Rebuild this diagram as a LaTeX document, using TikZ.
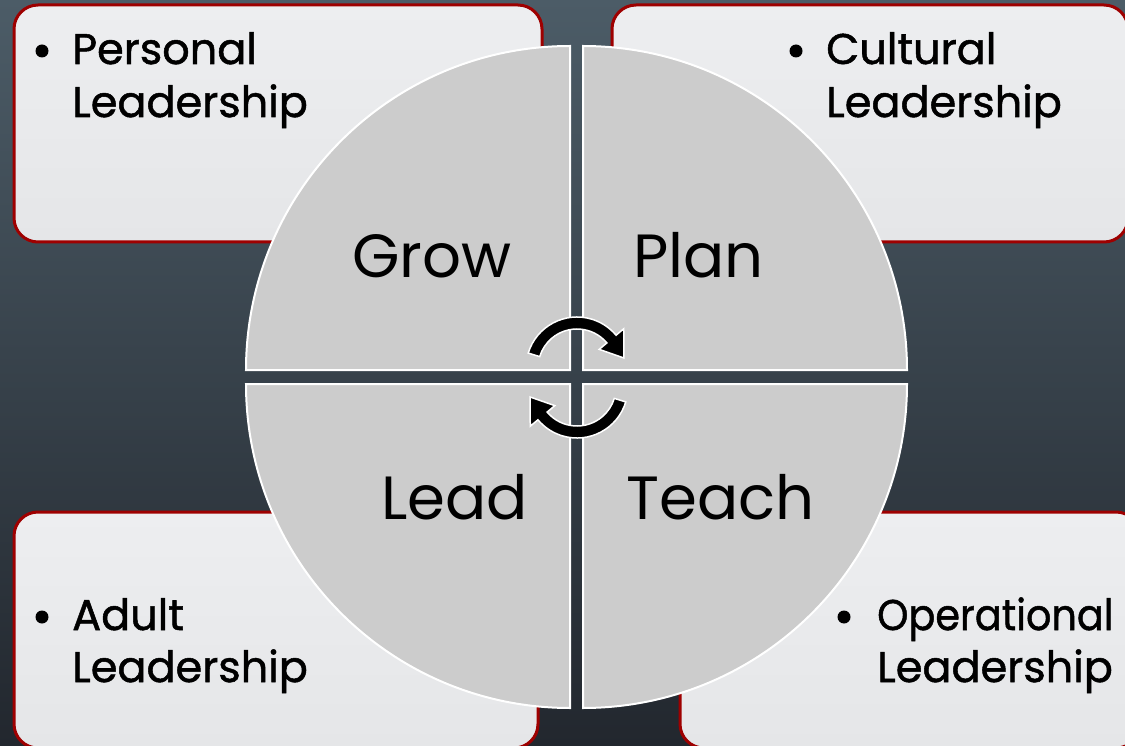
\documentclass[tikz,border=0pt]{standalone}
\usepackage{fontspec}
\setmainfont{Poppins}
\newfontfamily\boxfont[FakeBold=1.2]{Poppins}
\usetikzlibrary{calc}
\definecolor{bgtop}{RGB}{76,92,103}
\definecolor{bgbot}{RGB}{34,39,46}
\definecolor{boxfill}{RGB}{237,238,240}
\definecolor{boxfill2}{RGB}{229,230,232}
\definecolor{boxred}{RGB}{158,0,0}
\definecolor{quad}{RGB}{204,204,204}
\begin{document}
\begin{tikzpicture}[x=1pt,y=1pt,
  panel/.style={draw=boxred, line width=3pt, rounded corners=24pt, top color=boxfill, bottom color=boxfill2},
  quadrant/.style={fill=quad, draw=white, line width=2pt},
  boxtext/.style={anchor=base west, inner sep=0pt, font=\boxfont\fontsize{43}{50}\selectfont},
  bullet/.style={circle, fill=black, inner sep=0pt, minimum size=13pt},
  bigtext/.style={inner sep=0pt, font=\fontsize{61}{70}\selectfont},
  cyc/.style={fill=black, draw=white, line width=1.5pt}]
\useasboundingbox (0,0) rectangle (1125,-746);
\begin{scope}
\clip (0,0) rectangle (1125,-746);
\shade[top color=bgtop, bottom color=bgbot] (0,0) rectangle (1125,-746);
% panels
\draw[panel] (14,-5) rectangle (542,-242);
\draw[panel] (612,-5) rectangle (1128,-242);
\draw[panel] (14,-512) rectangle (538,-748);
\draw[panel] (680,-512) rectangle (1140,-748);
% panel texts
\node[bullet] (b1) at (42,-51) {};
\node[boxtext] (p1) at (72,-64) {Personal};
\node[boxtext] (p2) at (72,-117) {Leadership};
\node[bullet] (b2) at (796,-51) {};
\node[boxtext] (c1) at (826,-64) {Cultural};
\node[boxtext] (c2) at (826,-117) {Leadership};
\node[bullet] (b3) at (42,-617) {};
\node[boxtext] (a1) at (72,-630) {Adult};
\node[boxtext] (a2) at (72,-682) {Leadership};
\node[bullet] (b4) at (844,-617) {};
\node[boxtext] (o1) at (877,-630) {\scalebox{0.925}[1]{Operational}};
\node[boxtext] (o2) at (877,-682) {Leadership};
% quadrants
\draw[quadrant] (570,-370) -- (246,-370) arc[start angle=180, end angle=90, radius=324pt] -- cycle;
\draw[quadrant] (583,-370) -- (583,-46) arc[start angle=90, end angle=0, radius=324pt] -- cycle;
\draw[quadrant] (570,-384) -- (246,-384) arc[start angle=180, end angle=270, radius=324pt] -- cycle;
\draw[quadrant] (583,-384) -- (907,-384) arc[start angle=0, end angle=-90, radius=324pt] -- cycle;
% labels
\node[bigtext, anchor=base east] (grow) at (512,-278) {Grow};
\node[bigtext, anchor=base west] (plan) at (633,-278) {Plan};
\node[bigtext, anchor=base east] (lead) at (528,-519) {Lead};
\node[bigtext, anchor=base west] (teach) at (626,-519) {Teach};
% cycle arrows
\coordinate (ct) at (577,-368);
\coordinate (cb) at (577,-387);
\draw[cyc] ($(ct)+(163:51pt)$) arc[start angle=163, end angle=40, radius=51pt]
  -- ($(ct)+(40:61pt)$) -- ($(ct)+(12:48pt)$) -- ($(ct)+(40:29pt)$) -- ($(ct)+(40:39pt)$)
  arc[start angle=40, end angle=163, radius=39pt] -- cycle;
\draw[cyc] ($(cb)+(-17:51pt)$) arc[start angle=-17, end angle=-140, radius=51pt]
  -- ($(cb)+(-140:61pt)$) -- ($(cb)+(-168:48pt)$) -- ($(cb)+(-140:29pt)$) -- ($(cb)+(-140:39pt)$)
  arc[start angle=-140, end angle=-17, radius=39pt] -- cycle;
\end{scope}
\end{tikzpicture}
\end{document}
